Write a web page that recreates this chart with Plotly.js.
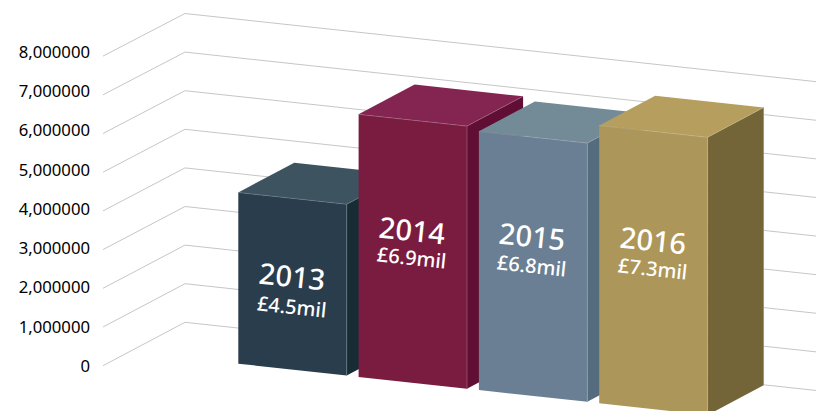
<!DOCTYPE html>
<html>
<head>
<meta charset="utf-8">
<script src="https://cdn.plot.ly/plotly-3.0.1.min.js"></script>
<style>html,body{margin:0;padding:0;background:#fff}</style>
</head>
<body>
<div id="chart" style="width:816px;height:411px"></div>
<script>
// ---- data ----
const years = ['2013', '2014', '2015', '2016'];
const revenue = [4500000, 6900000, 6800000, 7300000];
const valueLabels = ['£4.5mil', '£6.9mil', '£6.8mil', '£7.3mil'];
const tickVals = [0, 1000000, 2000000, 3000000, 4000000, 5000000, 6000000, 7000000, 8000000];
const tickLabels = ['0', '1,000000', '2,000000', '3,000000', '4,000000', '5,000000', '6,000000', '7,000000', '8,000000'];

// ---- styles ----
const frontColors = ['#2a3d4c', '#7a1c40', '#6a7f94', '#ad9659'];
const topColors   = ['#3d5460', '#842450', '#728b97', '#b69e5f'];
const sideColors  = ['#182c35', '#600e33', '#546c7e', '#736538'];
const edgeColors  = ['#6c7f88', '#a66a85', '#93a3b2', '#c4b27e'];
const labelFont = '"Noto Sans", "Open Sans", sans-serif';

// ---- oblique projection, in plot units (the y axis holds revenue) ----
const AXIS_ZERO = 366, AXIS_STEP = 39.25, MILLION = 1e6;
const yOf = px => (AXIS_ZERO - px) / AXIS_STEP * MILLION;
const PLOT_LEFT = 94, FULL_W = 816, FULL_H = 411;

const GRID = {x0: 103, x1: 185, x2: 816, y0: 365.7, y1: 322.3, s0: 38.7, s1: 38.6, slope: 0.108};
const BAR = {x: 238.3, dx: 120.3, y: 363.7, dy: 13.2, w: 108.4, slope: 0.1085, dpx: 56, dpy: -29.8, s: 38.05};

function corners(i, v) {
  const m = v / MILLION;
  const xl = BAR.x + BAR.dx * i, yl = BAR.y + BAR.dy * i;
  const p = (fw, fd, fh) => ({
    x: xl + fw * BAR.w + fd * BAR.dpx,
    y: yl + fw * BAR.w * BAR.slope + fd * BAR.dpy - fh * m * BAR.s
  });
  return p;
}
function poly(pts, color, name) {
  const c = pts.concat([pts[0]]);
  return {type: 'scatter', mode: 'lines', x: c.map(q => q.x), y: c.map(q => yOf(q.y)),
    fill: 'toself', fillcolor: color, line: {width: 0, color: color}, hoverinfo: 'skip', showlegend: false, name: name};
}
function edge(pts, color, width) {
  return {type: 'scatter', mode: 'lines', x: pts.map(q => q.x), y: pts.map(q => yOf(q.y)),
    line: {width: width, color: color}, hoverinfo: 'skip', showlegend: false};
}

const traces = [];

// gridlines, one per axis tick, bent round the floor corner
tickVals.forEach(v => {
  const m = v / MILLION;
  const a = GRID.y0 - GRID.s0 * m, b = GRID.y1 - GRID.s1 * m;
  const c = b + (GRID.x2 - GRID.x1) * GRID.slope;
  traces.push(edge([{x: GRID.x0, y: a}, {x: GRID.x1, y: b}, {x: GRID.x2, y: c}], '#c6c6c6', 1));
});

// bars, back to front
years.forEach((yr, i) => {
  const p = corners(i, revenue[i]);
  traces.push(edge([p(1, 1, 0), p(1, 1, 1)], '#d9d9d9', 1));
  traces.push(poly([p(1, 0, 0), p(1, 1, 0), p(1, 1, 1), p(1, 0, 1)], sideColors[i], yr + ' side'));
  traces.push(poly([p(0, 0, 1), p(1, 0, 1), p(1, 1, 1), p(0, 1, 1)], topColors[i], yr + ' top'));
  traces.push(poly([p(0, 0, 0), p(1, 0, 0), p(1, 0, 1), p(0, 0, 1)], frontColors[i], yr + ' front'));
  traces.push(edge([p(0, 0, 1), p(1, 0, 1), p(1, 0, 0)], edgeColors[i], 0.6));
  traces.push(edge([p(1, 0, 1), p(1, 1, 1)], edgeColors[i], 0.6));
});

// labels on the front faces
const yearLabelY = [275.5, 229.5, 235.5, 239.5];
const valueLabelY = [306.5, 257, 265, 268];
const labelX = [292, 412, 532, 653];
const TILT = 6;
const annotations = [];
years.forEach((yr, i) => {
  annotations.push({x: labelX[i], y: yOf(yearLabelY[i]), xref: 'x', yref: 'y', text: yr, showarrow: false,
    textangle: TILT, xanchor: 'center', yanchor: 'middle', font: {family: labelFont, size: 29, weight: 500, color: '#ffffff'}});
  annotations.push({x: labelX[i], y: yOf(valueLabelY[i]), xref: 'x', yref: 'y', text: valueLabels[i], showarrow: false,
    textangle: TILT, xanchor: 'center', yanchor: 'middle', font: {family: labelFont, size: 20, weight: 500, color: '#ffffff'}});
});

const layout = {
  width: FULL_W, height: FULL_H,
  margin: {l: PLOT_LEFT, r: 0, t: 0, b: 0, pad: 0},
  paper_bgcolor: '#ffffff', plot_bgcolor: 'rgba(0,0,0,0)',
  showlegend: false,
  xaxis: {range: [PLOT_LEFT, FULL_W], visible: false, fixedrange: true},
  yaxis: {range: [yOf(FULL_H), yOf(0)], showgrid: false, zeroline: false, showline: false, fixedrange: true,
    tickmode: 'array', tickvals: tickVals, ticktext: tickLabels, ticks: '', ticklabelstandoff: 3,
    tickfont: {family: labelFont, size: 16.7, color: '#000000'}},
  annotations: annotations
};
Plotly.newPlot('chart', traces, layout, {displayModeBar: false, staticPlot: true});
</script>
</body>
</html>
